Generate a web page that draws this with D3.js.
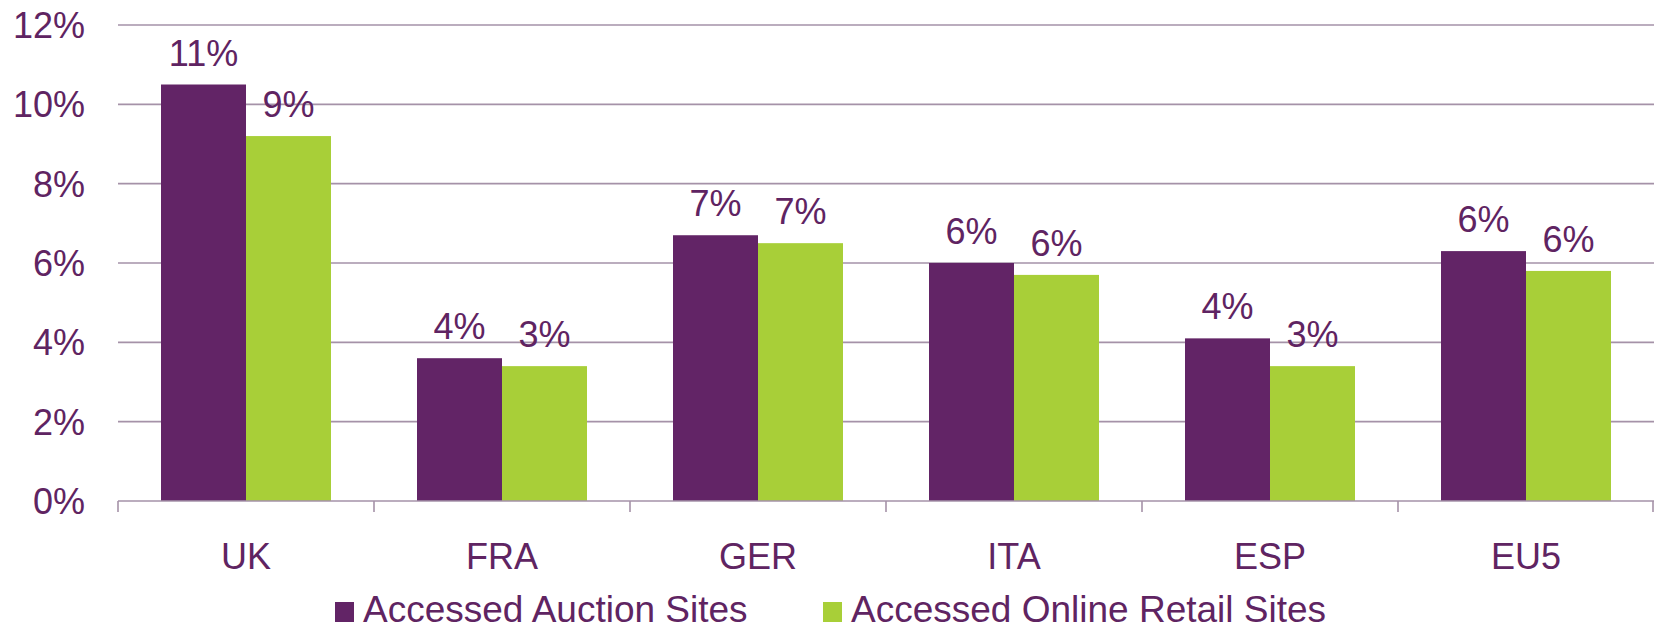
<!DOCTYPE html>
<html>
<head>
<meta charset="utf-8">
<script src="https://cdn.jsdelivr.net/npm/d3@7"></script>
<style>
    body { margin: 0; background: #fff; }
    #chart-area text { font-family: "Liberation Sans", Arial, sans-serif; fill: #5f2462; }
    .grid line { stroke: #a592a8; stroke-width: 1.6; }
    .axis path, .axis line { stroke: #a592a8; stroke-width: 1.6; }
</style>
</head>
<body>
<div id="chart-area"></div>
<script>

// Chart data
const categories = ["UK", "FRA", "GER", "ITA", "ESP", "EU5"];
const seriesNames = ["Accessed Auction Sites", "Accessed Online Retail Sites"];
const auctionValues = [10.5, 3.6, 6.7, 6.0, 4.1, 6.3];
const retailValues = [9.2, 3.4, 6.5, 5.7, 3.4, 5.8];
const auctionLabels = ["11%", "4%", "7%", "6%", "4%", "6%"];
const retailLabels = ["9%", "3%", "7%", "6%", "3%", "6%"];
const yTicks = [0, 2, 4, 6, 8, 10, 12];
const colors = ["#622466", "#a8cf38"];

class GroupedBarChart {

    constructor(_parentElement) {
        this.parentElement = _parentElement;
        this.initVis();
    }

    initVis() {
        let vis = this;

        vis.margin = { top: 25, right: 0, bottom: 130, left: 118 };
        vis.width = 1654 - vis.margin.left - vis.margin.right;
        vis.height = 631 - vis.margin.top - vis.margin.bottom;

        vis.svg = d3.select("#" + vis.parentElement).append("svg")
            .attr("width", 1654)
            .attr("height", 631)
            .append("g")
            .attr("transform", "translate(" + vis.margin.left + "," + vis.margin.top + ")");

        // Build rows from the arrays
        vis.data = categories.map((c, i) => ({
            category: c,
            values: [
                { key: 0, value: auctionValues[i], label: auctionLabels[i] },
                { key: 1, value: retailValues[i], label: retailLabels[i] }
            ]
        }));

        // Scales
        vis.x0 = d3.scaleBand()
            .domain(categories)
            .range([0, vis.width])
            .paddingInner(0.336)
            .paddingOuter(0.168);

        vis.x1 = d3.scaleBand()
            .domain([0, 1])
            .range([0, vis.x0.bandwidth()]);

        vis.y = d3.scaleLinear()
            .domain([0, 12])
            .range([vis.height, 0]);

        // Gridlines
        vis.svg.append("g")
            .attr("class", "grid")
            .selectAll("line")
            .data(yTicks.filter(d => d > 0))
            .enter().append("line")
            .attr("x1", 0)
            .attr("x2", vis.width)
            .attr("y1", d => vis.y(d))
            .attr("y2", d => vis.y(d));

        // Y labels
        vis.svg.append("g")
            .selectAll("text")
            .data(yTicks)
            .enter().append("text")
            .attr("x", -33)
            .attr("y", d => vis.y(d))
            .attr("dy", "0.36em")
            .attr("text-anchor", "end")
            .style("font-size", "36px")
            .text(d => d + "%");

        // Bars
        vis.groups = vis.svg.selectAll(".group")
            .data(vis.data)
            .enter().append("g")
            .attr("class", "group")
            .attr("transform", d => "translate(" + vis.x0(d.category) + ",0)");

        vis.groups.selectAll("rect")
            .data(d => d.values)
            .enter().append("rect")
            .attr("x", d => vis.x1(d.key))
            .attr("width", vis.x1.bandwidth())
            .attr("y", d => vis.y(d.value))
            .attr("height", d => vis.height - vis.y(d.value))
            .attr("fill", d => colors[d.key]);

        vis.groups.selectAll(".bar-label")
            .data(d => d.values)
            .enter().append("text")
            .attr("class", "bar-label")
            .attr("x", d => vis.x1(d.key) + vis.x1.bandwidth() / 2)
            .attr("y", d => vis.y(d.value) - 19)
            .attr("text-anchor", "middle")
            .style("font-size", "36px")
            .text(d => d.label);

        // X axis with ticks between categories
        let axis = vis.svg.append("g")
            .attr("class", "axis")
            .attr("transform", "translate(0," + vis.height + ")");

        axis.append("line")
            .attr("x1", 0)
            .attr("x2", vis.width);

        let step = vis.x0.step();
        axis.selectAll(".tick")
            .data(d3.range(categories.length + 1))
            .enter().append("line")
            .attr("class", "tick")
            .attr("x1", i => Math.min(i * step, vis.width - 1))
            .attr("x2", i => Math.min(i * step, vis.width - 1))
            .attr("y1", 0)
            .attr("y2", 11);

        axis.selectAll(".cat")
            .data(categories)
            .enter().append("text")
            .attr("class", "cat")
            .attr("x", d => vis.x0(d) + vis.x0.bandwidth() / 2)
            .attr("y", 68)
            .attr("text-anchor", "middle")
            .style("font-size", "36px")
            .text(d => d);

        // Legend
        let legendX = [335 - vis.margin.left, 823 - vis.margin.left];
        let legend = vis.svg.selectAll(".legend")
            .data(seriesNames)
            .enter().append("g")
            .attr("class", "legend")
            .attr("transform", (d, i) => "translate(" + legendX[i] + "," + (vis.height + 101) + ")");

        legend.append("rect")
            .attr("width", 19)
            .attr("height", 20)
            .attr("fill", (d, i) => colors[i]);

        legend.append("text")
            .attr("x", 28)
            .attr("y", 20)
            .style("font-size", "37px")
            .text(d => d);
    }
}

new GroupedBarChart("chart-area");

</script>
</body>
</html>
